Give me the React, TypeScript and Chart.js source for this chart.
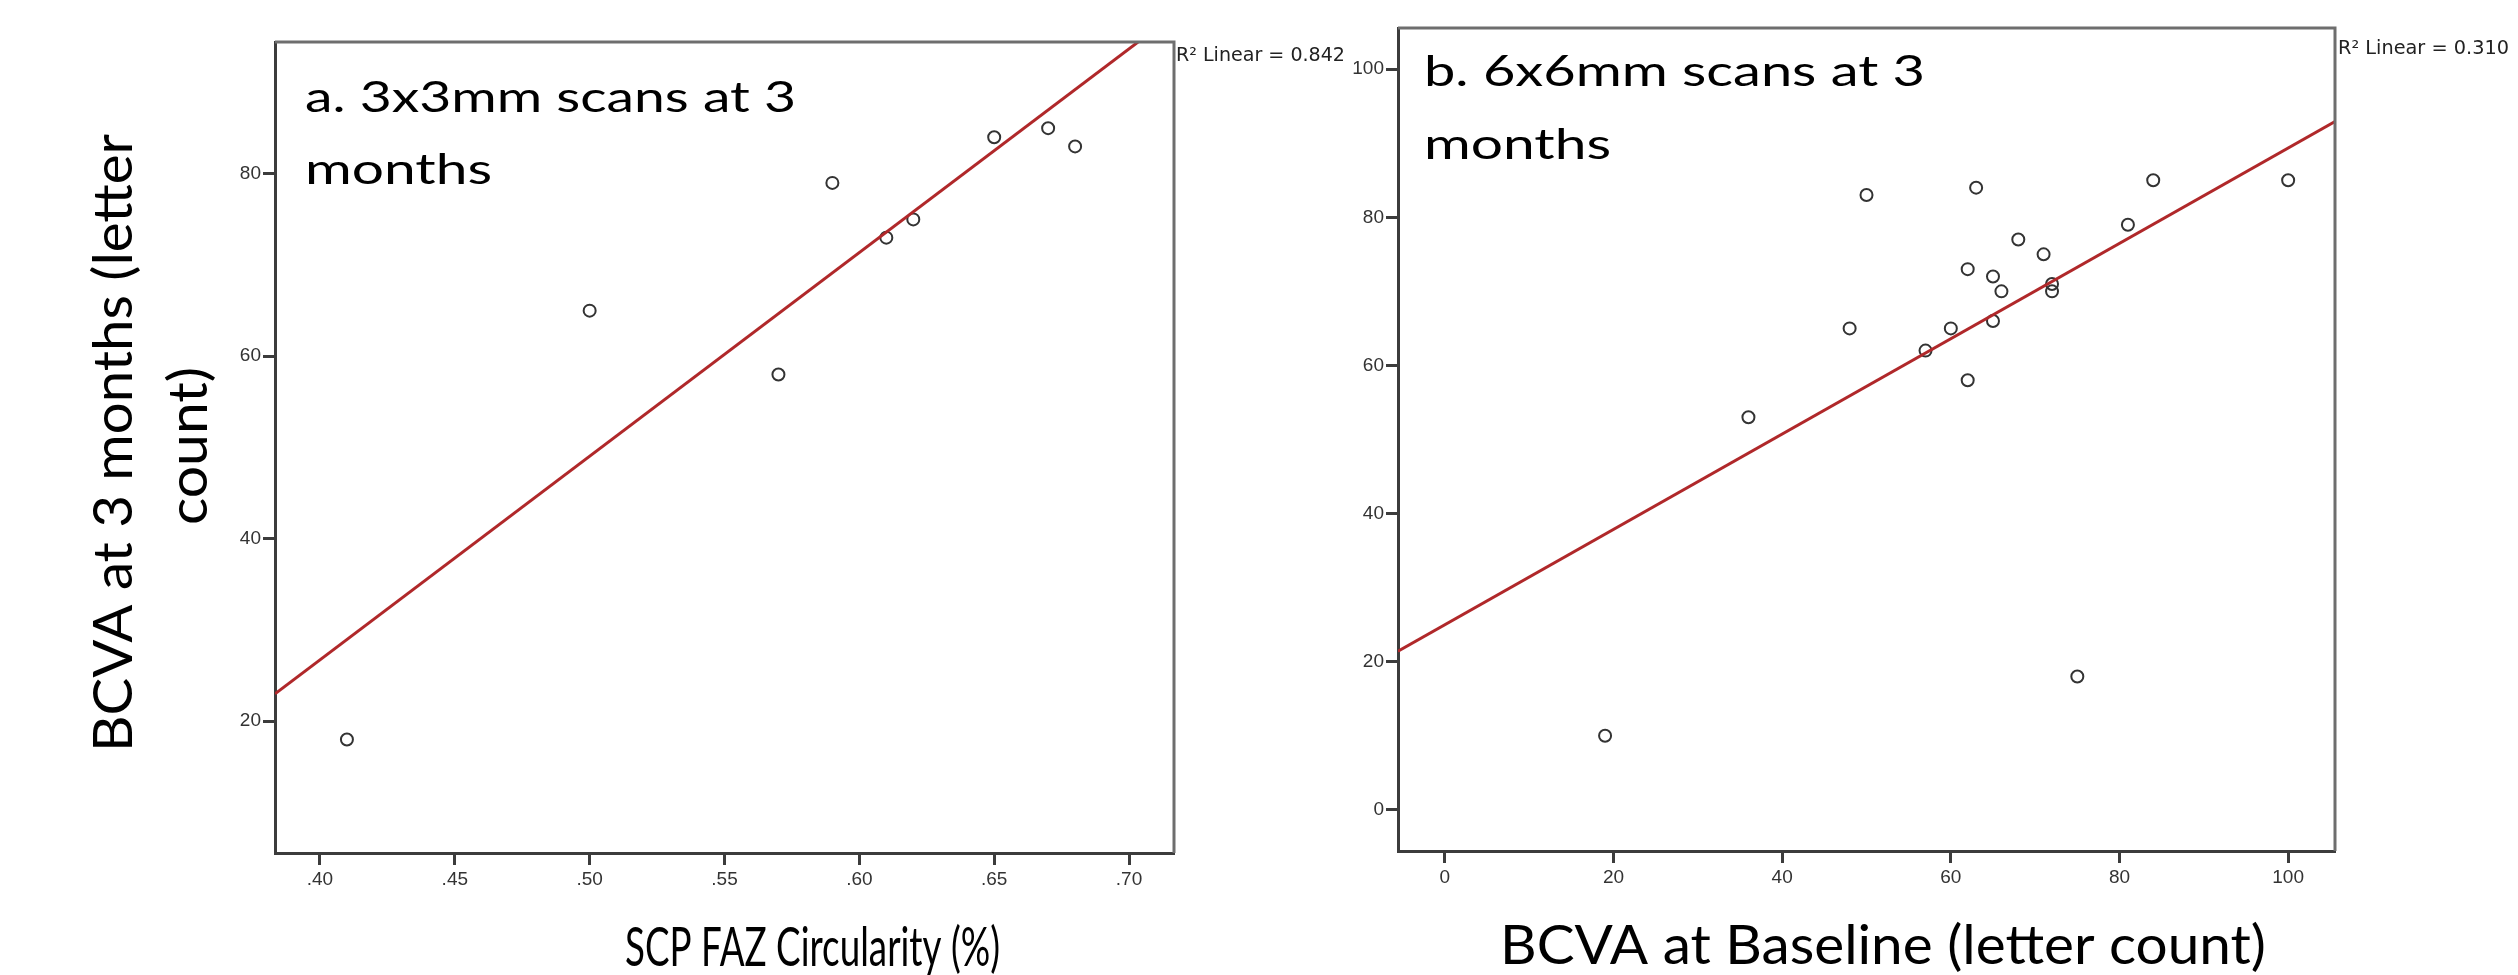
import React, { useEffect, useRef } from 'react';
import { Chart, registerables } from 'chart.js';

Chart.register(...registerables);

const PAGE_W = 2518;
const PAGE_H = 975;

// ---------------- data ----------------
// Panel a: SCP FAZ circularity vs BCVA at 3 months
const CIRCULARITY_A = [0.41, 0.5, 0.57, 0.59, 0.61, 0.62, 0.65, 0.67, 0.68];
const BCVA_3M_A = [18, 65, 58, 79, 73, 75, 84, 85, 83];

// Panel b: BCVA at baseline vs BCVA at 3 months
const BASELINE_B = [50, 63, 84, 100, 81, 68, 71, 62, 65, 66, 72, 72, 65, 60, 48, 57, 62, 36, 19, 75];
const BCVA_3M_B = [83, 84, 85, 85, 79, 77, 75, 73, 72, 70, 71, 70, 66, 65, 65, 62, 58, 53, 10, 18];

// tick labels
const X_TICKS_A = [0.4, 0.45, 0.5, 0.55, 0.6, 0.65, 0.7];
const Y_TICKS_A = [20, 40, 60, 80];
const X_TICKS_B = [0, 20, 40, 60, 80, 100];
const Y_TICKS_B = [0, 20, 40, 60, 80, 100];

// axis ranges
const X_RANGE_A = [0.38333, 0.71667];
const Y_RANGE_A = [5.556, 94.444];
const X_RANGE_B = [-5.556, 105.556];
const Y_RANGE_B = [-5.556, 105.556];

// texts
const PANEL_LABEL_A = ['a. 3x3mm scans at 3', 'months'];
const PANEL_LABEL_B = ['b. 6x6mm scans at 3', 'months'];
const X_TITLE_A = 'SCP FAZ Circularity (%)';
const X_TITLE_B = 'BCVA at Baseline (letter count)';
const Y_TITLE_A = ['BCVA at 3 months (letter', 'count)'];
const R2_LABEL_A = 'R\u00B2 Linear = 0.842';
const R2_LABEL_B = 'R\u00B2 Linear = 0.310';

// ---------------- styles / layout ----------------
const TITLE_FONT = "Lato, 'Open Sans', 'Noto Sans', sans-serif";
const R2_FONT = "'DejaVu Sans', Verdana, sans-serif";
const TICK_FONT = "'Liberation Sans', Arial, sans-serif";
const FIT_COLOR = '#b0282a';
const POINT_COLOR = '#333333';
const AXIS_DARK = '#3c3c3c';
const FRAME_LIGHT = '#6e6e6e';

type TextItem = {
  text: string;
  x: number;
  y: number;
  w: number;
  size: number;
  family: string;
  color: string;
  rot?: boolean;
};

type PanelSpec = {
  xs: number[];
  ys: number[];
  xRange: number[];
  yRange: number[];
  xTicks: number[];
  yTicks: number[];
  xFormat: (v: number) => string;
  area: { left: number; right: number; top: number; bottom: number };
  texts: TextItem[];
};

const PANEL_A: PanelSpec = {
  xs: CIRCULARITY_A,
  ys: BCVA_3M_A,
  xRange: X_RANGE_A,
  yRange: Y_RANGE_A,
  xTicks: X_TICKS_A,
  yTicks: Y_TICKS_A,
  xFormat: (v) => v.toFixed(2).replace(/^0/, ''),
  area: { left: 275, right: 1174, top: 42, bottom: 853 },
  texts: [
    { text: PANEL_LABEL_A[0], x: 305, y: 112, w: 491, size: 42, family: TITLE_FONT, color: '#000' },
    { text: PANEL_LABEL_A[1], x: 305, y: 184, w: 187, size: 42, family: TITLE_FONT, color: '#000' },
    { text: X_TITLE_A, x: 625, y: 966, w: 375, size: 54, family: TITLE_FONT, color: '#000' },
    { text: Y_TITLE_A[0], x: 132, y: 752, w: 618, size: 54, family: TITLE_FONT, color: '#000', rot: true },
    { text: Y_TITLE_A[1], x: 207, y: 525, w: 158, size: 54, family: TITLE_FONT, color: '#000', rot: true },
    { text: R2_LABEL_A, x: 1176, y: 61, w: 169, size: 19, family: R2_FONT, color: '#222' },
  ],
};

const PANEL_B: PanelSpec = {
  xs: BASELINE_B,
  ys: BCVA_3M_B,
  xRange: X_RANGE_B,
  yRange: Y_RANGE_B,
  xTicks: X_TICKS_B,
  yTicks: Y_TICKS_B,
  xFormat: (v) => String(v),
  area: { left: 1398, right: 2335, top: 28, bottom: 851 },
  texts: [
    { text: PANEL_LABEL_B[0], x: 1424, y: 86, w: 501, size: 42, family: TITLE_FONT, color: '#000' },
    { text: PANEL_LABEL_B[1], x: 1424, y: 159, w: 187, size: 42, family: TITLE_FONT, color: '#000' },
    { text: X_TITLE_B, x: 1500, y: 964, w: 766, size: 54, family: TITLE_FONT, color: '#000' },
    { text: R2_LABEL_B, x: 2338, y: 54, w: 171, size: 19, family: R2_FONT, color: '#222' },
  ],
};

// ---------------- helpers ----------------
function leastSquares(xs: number[], ys: number[]) {
  const n = xs.length;
  const mx = xs.reduce((s, v) => s + v, 0) / n;
  const my = ys.reduce((s, v) => s + v, 0) / n;
  let sxy = 0;
  let sxx = 0;
  for (let i = 0; i < n; i++) {
    sxy += (xs[i] - mx) * (ys[i] - my);
    sxx += (xs[i] - mx) * (xs[i] - mx);
  }
  const slope = sxy / sxx;
  return { slope, intercept: my - slope * mx };
}

function drawFitted(ctx: CanvasRenderingContext2D, t: TextItem) {
  ctx.save();
  ctx.font = `${t.size}px ${t.family}`;
  ctx.fillStyle = t.color;
  ctx.textAlign = 'left';
  ctx.textBaseline = 'alphabetic';
  const natural = ctx.measureText(t.text).width || 1;
  ctx.translate(t.x, t.y);
  if (t.rot) ctx.rotate(-Math.PI / 2);
  ctx.scale(t.w / natural, 1);
  ctx.fillText(t.text, 0, 0);
  ctx.restore();
}

function makeTextPlugin(items: TextItem[]) {
  return {
    id: 'panelTexts',
    afterDraw(chart: any) {
      items.forEach((t) => drawFitted(chart.ctx, t));
    },
  };
}

const frameTopRightPlugin = {
  id: 'frameTopRight',
  afterDatasetsDraw(chart: any) {
    const { left, right, top, bottom } = chart.chartArea;
    const ctx = chart.ctx as CanvasRenderingContext2D;
    ctx.save();
    ctx.lineWidth = 3;
    ctx.strokeStyle = FRAME_LIGHT;
    ctx.beginPath();
    ctx.moveTo(left, top);
    ctx.lineTo(right, top);
    ctx.lineTo(right, bottom);
    ctx.stroke();
    ctx.restore();
  },
};

function buildConfig(p: PanelSpec): any {
  const { slope, intercept } = leastSquares(p.xs, p.ys);
  const [xMin, xMax] = p.xRange;
  const fitLine = [
    { x: xMin, y: intercept + slope * xMin },
    { x: xMax, y: intercept + slope * xMax },
  ];
  const points = p.xs.map((x, i) => ({ x, y: p.ys[i] }));
  const Y_AXIS_W = 100;
  const tickFont = { family: TICK_FONT, size: 19 };
  const grid = {
    display: true,
    drawOnChartArea: false,
    drawTicks: true,
    tickLength: 12,
    tickWidth: 3,
    tickColor: AXIS_DARK,
  };
  return {
    type: 'scatter',
    data: {
      datasets: [
        {
          label: 'Linear fit',
          data: fitLine,
          showLine: true,
          borderColor: FIT_COLOR,
          borderWidth: 3,
          pointRadius: 0,
          fill: false,
          order: 0,
        },
        {
          label: 'Observed',
          data: points,
          showLine: false,
          pointStyle: 'circle',
          pointRadius: 6,
          borderWidth: 2,
          pointBorderWidth: 2,
          borderColor: POINT_COLOR,
          pointBorderColor: POINT_COLOR,
          backgroundColor: 'rgba(0,0,0,0)',
          pointBackgroundColor: 'rgba(0,0,0,0)',
          order: 1,
        },
      ],
    },
    options: {
      responsive: false,
      maintainAspectRatio: false,
      animation: false,
      devicePixelRatio: 1,
      events: [],
      layout: {
        padding: {
          left: p.area.left - Y_AXIS_W,
          top: p.area.top,
          right: PAGE_W - p.area.right,
          bottom: 0,
        },
      },
      plugins: {
        legend: { display: false },
        tooltip: { enabled: false },
        title: { display: false },
      },
      scales: {
        x: {
          type: 'linear',
          position: 'bottom',
          min: xMin,
          max: xMax,
          afterBuildTicks: (s: any) => {
            s.ticks = p.xTicks.map((v) => ({ value: v }));
          },
          afterFit: (s: any) => {
            s.height = PAGE_H - p.area.bottom;
          },
          ticks: {
            autoSkip: false,
            maxRotation: 0,
            padding: 3,
            color: '#333',
            font: tickFont,
            callback: (v: any) => p.xFormat(Number(v)),
          },
          grid,
          border: { display: true, color: AXIS_DARK, width: 3 },
          title: { display: false },
        },
        y: {
          type: 'linear',
          position: 'left',
          min: p.yRange[0],
          max: p.yRange[1],
          afterBuildTicks: (s: any) => {
            s.ticks = p.yTicks.map((v) => ({ value: v }));
          },
          afterFit: (s: any) => {
            s.width = Y_AXIS_W;
          },
          ticks: {
            autoSkip: false,
            padding: 2,
            color: '#333',
            font: tickFont,
            callback: (v: any) => String(v),
          },
          grid,
          border: { display: true, color: AXIS_DARK, width: 3 },
          title: { display: false },
        },
      },
    },
    plugins: [frameTopRightPlugin, makeTextPlugin(p.texts)],
  };
}

function PanelChart({ spec }: { spec: PanelSpec }) {
  const ref = useRef<HTMLCanvasElement | null>(null);
  useEffect(() => {
    if (!ref.current) return;
    const chart = new Chart(ref.current, buildConfig(spec));
    return () => chart.destroy();
  }, [spec]);
  return (
    <canvas
      ref={ref}
      width={PAGE_W}
      height={PAGE_H}
      style={{ position: 'absolute', left: 0, top: 0, width: PAGE_W, height: PAGE_H }}
    />
  );
}

export default function App() {
  useEffect(() => {
    document.body.style.margin = '0';
    document.body.style.background = '#ffffff';
  }, []);
  return (
    <div style={{ position: 'absolute', left: 0, top: 0, width: PAGE_W, height: PAGE_H, background: '#fff', overflow: 'hidden' }}>
      <PanelChart spec={PANEL_A} />
      <PanelChart spec={PANEL_B} />
    </div>
  );
}
